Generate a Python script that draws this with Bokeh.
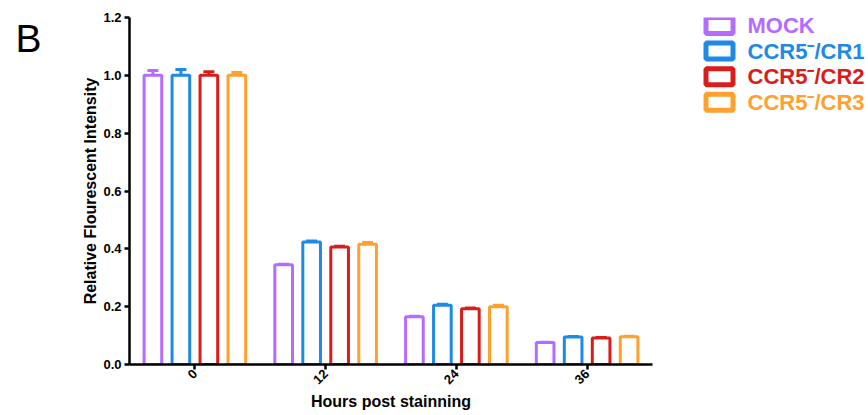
import math
from bokeh.plotting import figure
from bokeh.models import ColumnDataSource, FactorRange, Range1d, Whisker, TeeHead
from bokeh.transform import dodge
from bokeh.layouts import row
from bokeh.core.properties import value
from bokeh.embed import file_html
from bokeh.resources import INLINE

hours = ["0", "12", "24", "36"]
series = ["MOCK", "CCR5⁻/CR1", "CCR5⁻/CR2", "CCR5⁻/CR3"]
colors = ["#B46CFF", "#1E8AE6", "#D81E1A", "#FFA12E"]
offsets = [-0.321, -0.107, 0.107, 0.321]

mock = [1.0, 0.345, 0.165, 0.076]
cr1 = [1.0, 0.424, 0.205, 0.095]
cr2 = [1.0, 0.406, 0.193, 0.092]
cr3 = [1.0, 0.416, 0.200, 0.096]
values = [mock, cr1, cr2, cr3]

mock_err = [0.017, 0.002, 0.002, 0.001]
cr1_err = [0.020, 0.003, 0.003, 0.002]
cr2_err = [0.012, 0.003, 0.002, 0.001]
cr3_err = [0.010, 0.006, 0.005, 0.002]
errors = [mock_err, cr1_err, cr2_err, cr3_err]

FONT = "Liberation Sans"
H = 413
TOP, BOTTOM = 17, 48
FH = H - TOP - BOTTOM


def side_fig(w, yr):
    f = figure(width=w, height=H, x_range=Range1d(0, w), y_range=yr,
               x_axis_location=None, y_axis_location=None,
               output_backend="svg", toolbar_location=None,
               min_border_left=0, min_border_right=0, min_border_top=TOP, min_border_bottom=BOTTOM)
    f.grid.grid_line_color = None
    f.outline_line_color = None
    return f


# panel letter
bfig = side_fig(45, Range1d(FH, 0))
bfig.text(x=[15], y=[21], text=["B"], text_font=value(FONT), text_font_size="39px",
          text_color="black", text_baseline="alphabetic", text_align="left")

p = figure(x_range=FactorRange(*hours, range_padding=0), y_range=Range1d(0, 1.2),
           width=645, height=H, output_backend="svg", toolbar_location=None,
           min_border_left=84, min_border_right=38, min_border_top=TOP, min_border_bottom=BOTTOM)
p.outline_line_color = None
p.xgrid.grid_line_color = None
p.ygrid.grid_line_color = None
p.background_fill_color = "white"

for name, col, off, vals, errs in zip(series, colors, offsets, values, errors):
    src = ColumnDataSource(dict(hours=hours, val=vals, hi=[v + e for v, e in zip(vals, errs)]))
    p.vbar(x=dodge("hours", off, range=p.x_range), top="val", bottom=0, width=0.135,
           source=src, fill_color="white", line_color=col, line_width=3)
    w = Whisker(source=src, base=dodge("hours", off, range=p.x_range), upper="hi", lower="val",
                upper_head=TeeHead(size=11, line_color=col, line_width=3), lower_head=None,
                line_color=col, line_width=3, level="underlay")
    p.add_layout(w)

for ax in (p.xaxis[0], p.yaxis[0]):
    ax.axis_line_width = 2.5
    ax.axis_line_color = "black"
    ax.major_tick_line_width = 2.5
    ax.major_tick_line_color = "black"
    ax.major_tick_out = 5
    ax.major_tick_in = 0
    ax.minor_tick_line_color = None
    ax.major_label_text_font = FONT
    ax.major_label_text_font_style = "bold"
    ax.major_label_text_font_size = "13px"
    ax.major_label_text_color = "black"
    ax.axis_label_text_font = FONT
    ax.axis_label_text_font_style = "bold"
    ax.axis_label_text_color = "black"

p.yaxis.ticker = [0.0, 0.2, 0.4, 0.6, 0.8, 1.0, 1.2]
p.yaxis.major_label_overrides = {0.0: "0.0", 0.2: "0.2", 0.4: "0.4", 0.6: "0.6", 0.8: "0.8", 1.0: "1.0", 1.2: "1.2"}
p.yaxis.major_label_standoff = 3
p.yaxis.axis_label = "Relative Flourescent Intensity"
p.yaxis.axis_label_text_font_size = "16px"
p.yaxis.axis_label_standoff = 1

p.xaxis.major_label_orientation = math.pi / 4
p.xaxis.major_label_standoff = 2
p.xaxis.axis_label = "Hours post stainning"
p.xaxis.axis_label_text_font_size = "16px"
p.xaxis.axis_label_standoff = 2

# legend panel (row pitch 25.7 px, first row centre 8 px below frame top)
PITCH = 25.7
leg = side_fig(178, Range1d((FH - 8) / PITCH, -8 / PITCH))
rows_idx = list(range(len(series)))
lsrc = ColumnDataSource(dict(y=rows_idx, name=series, color=colors,
                             bx=[29] * len(series), tx=[57] * len(series)))
leg.rect(x="bx", y="y", width=27, height=16, width_units="screen", height_units="screen",
         source=lsrc, fill_color="white", line_color="color", line_width=5)
leg.text(x="tx", y="y", text="name", source=lsrc, text_color="color",
         text_font=value(FONT), text_font_style="bold", text_font_size="22px",
         text_baseline="middle", text_align="left")

layout = row(bfig, p, leg)
open("out.html", "w").write(file_html(layout, INLINE))
